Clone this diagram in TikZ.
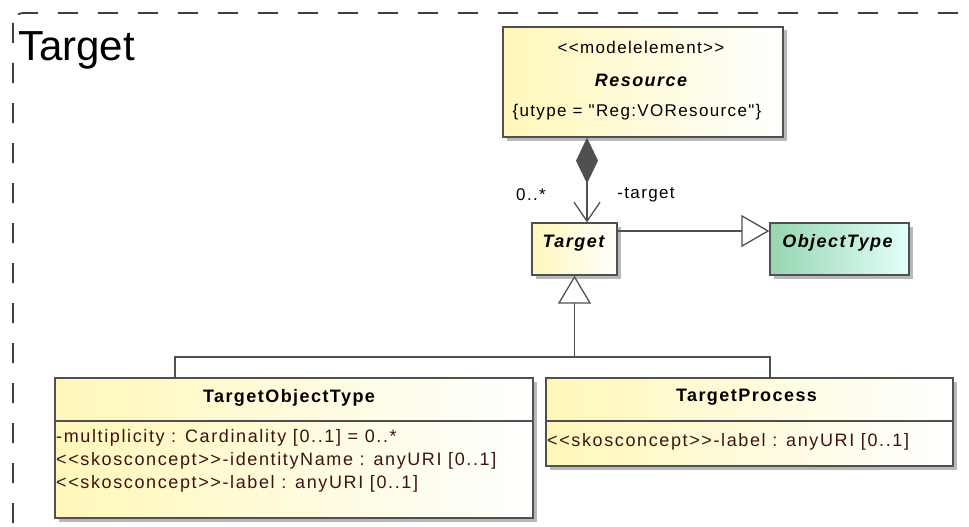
\documentclass[tikz,border=0pt]{standalone}
\usepackage{fontspec}
\setmainfont{Liberation Sans}
\newfontfamily\umlfont[LetterSpace=8]{Liberation Sans}
\newfontfamily\attrfont[LetterSpace=9]{Liberation Sans}
\usetikzlibrary{arrows.meta,shadows}

\definecolor{boxline}{RGB}{80,80,80}
\definecolor{clsyellow}{RGB}{255,247,185}
\definecolor{clsgreen}{RGB}{150,214,176}
\definecolor{clsmint}{RGB}{228,255,251}
\definecolor{attrtext}{RGB}{60,20,20}

\tikzset{
  clsbox/.style={draw=boxline, line width=1.3pt, left color=clsyellow, right color=white,
    drop shadow={shadow xshift=3.5pt, shadow yshift=-3.5pt, fill=black!28, opacity=1},
    inner sep=0pt},
  greenbox/.style={clsbox, left color=clsgreen, right color=clsmint},
  umltext/.style={font=\umlfont\fontsize{17}{20}\selectfont, inner sep=0pt},
  titletext/.style={font=\umlfont\fontsize{18}{21}\selectfont\bfseries, inner sep=0pt},
  abstracttext/.style={font=\umlfont\fontsize{18}{21}\selectfont\bfseries\itshape, inner sep=0pt},
  attrline/.style={font=\attrfont\fontsize{18}{21}\selectfont, inner sep=0pt, text=attrtext, anchor=west},
  assoc/.style={draw=boxline, line width=1.3pt},
  frameline/.style={draw=black!75, line width=1.8pt, dash pattern=on 20pt off 20pt}
}

\begin{document}
\begin{tikzpicture}[x=1pt, y=-1pt]
      \useasboundingbox (0,0) rectangle (969,527);
      \clip (0,0) rectangle (969,527);
      \fill[white] (0,0) rectangle (969,527);

      \draw[frameline, rounded corners=10pt] (13,13) rectangle (975,535);
      \node[anchor=base west, inner sep=0pt, font=\fontsize{42}{46}\selectfont] (frametitle) at(18, 60){Target};

      \node[clsbox, minimum width=280pt, minimum height=110pt] (resource) at(643, 82){};
        \node[umltext] (resstereo) at(641, 47){<<modelelement>>};
        \node[abstracttext] (resname) at(641, 80){Resource};
        \node[umltext] (restag) at(637, 112){\{utype = "Reg:VOResource"\}};

      \node[clsbox, minimum width=85pt, minimum height=52pt] (target) at(574.5, 249){};
        \node[abstracttext] (targetname) at(573.5, 243){Target};

      \node[greenbox, minimum width=139pt, minimum height=52pt] (objtype) at(839.5, 249){};
        \node[abstracttext] (objtypename) at(837.5, 243){ObjectType};

      \node[clsbox, minimum width=478pt, minimum height=140pt] (tot) at(294, 448){};
        \draw[assoc] (tot.west |- 0,421) to (tot.east |- 0,421);
        \node[titletext] (totname) at(289, 398){TargetObjectType};
        \node[attrline] (totattra) at(56, 438){-multiplicity : Cardinality [0..1] = 0..*};
        \node[attrline] (totattrb) at(56, 461){<<skosconcept>>-identityName : anyURI [0..1]};
        \node[attrline] (totattrc) at(56, 484){<<skosconcept>>-label : anyURI [0..1]};

      \node[clsbox, minimum width=407pt, minimum height=88pt] (tproc) at(749.5, 422){};
        \draw[assoc] (tproc.west |- 0,421) to (tproc.east |- 0,421);
        \node[titletext] (tprocname) at(746.5, 397){TargetProcess};
        \node[attrline] (tprocattr) at(547, 442){<<skosconcept>>-label : anyURI [0..1]};

      \coordinate (compx) at(587, 0);
      \draw[assoc, {Diamond[length=46pt, width=22pt]}-{Straight Barb[length=19pt, width=26pt]}]
        (resource.south -| compx) to (target.north -| compx);
      \node[umltext] (multlabel) at(531, 195){0..*};
      \node[umltext] (rolelabel) at(646, 195){-target};

      \coordinate (geny) at(0, 231);
      \draw[assoc, -{Triangle[open, length=28pt, width=32pt, fill=white]}]
        (target.east |- geny) to (objtype.west |- geny);

      \coordinate (junction) at(574.5, 357);
      \draw[assoc, -{Triangle[open, length=28pt, width=33pt, fill=white]}] (junction) to (target.south);
      \draw[assoc] (tot.north -| 175,0) |- (junction);
      \draw[assoc] (tproc.north -| 770,0) |- (junction);

    \end{tikzpicture}
\end{document}
